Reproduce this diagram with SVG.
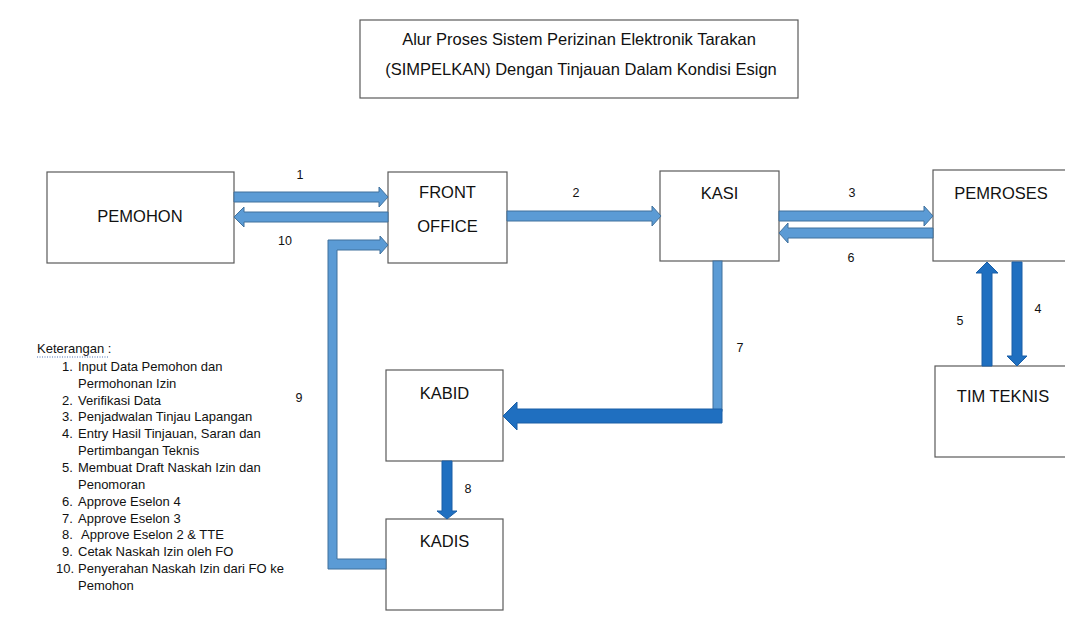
<svg xmlns="http://www.w3.org/2000/svg" width="1065" height="635" viewBox="0 0 1065 635">
<style>
.box{fill:#fff;stroke:#5a5a5a;stroke-width:1.2}
.nt{font-family:"Liberation Sans",Arial,sans-serif;font-size:16.5px;fill:#111;text-anchor:middle}
.tt{font-family:"Liberation Sans",Arial,sans-serif;font-size:16.5px;fill:#111;text-anchor:middle}
.lb{font-family:"Liberation Sans",Arial,sans-serif;font-size:12.5px;fill:#111;text-anchor:middle}
.lg{font-family:"Liberation Sans",Arial,sans-serif;font-size:13px;fill:#111}
.la{fill:#5B9BD5;stroke:#41719C;stroke-width:1}
.da{fill:#1F6FC0;stroke:#1A5EA6;stroke-width:1}
</style>
<rect width="1065" height="635" fill="#fff"/>
<g id="title">
<rect class="box" x="360" y="20" width="438" height="78"/>
<text class="tt" x="579" y="45">Alur Proses Sistem Perizinan Elektronik Tarakan</text>
<text class="tt" x="581" y="75">(SIMPELKAN) Dengan Tinjauan Dalam Kondisi Esign</text>
</g>
<g id="pemohon">
<rect class="box" x="47" y="172" width="187" height="91"/>
<text class="nt" x="140" y="222">PEMOHON</text>
</g>
<g id="front-office">
<rect class="box" x="388" y="172" width="119" height="91"/>
<text class="nt" x="447.5" y="198">FRONT</text>
<text class="nt" x="447.5" y="232">OFFICE</text>
</g>
<g id="kasi">
<rect class="box" x="660" y="171" width="119" height="90"/>
<text class="nt" x="719.5" y="199">KASI</text>
</g>
<g id="pemroses">
<rect class="box" x="933" y="170" width="140" height="91"/>
<text class="nt" x="1001" y="199">PEMROSES</text>
</g>
<g id="tim-teknis">
<rect class="box" x="935" y="366" width="140" height="91"/>
<text class="nt" x="1003" y="402">TIM TEKNIS</text>
</g>
<g id="kabid">
<rect class="box" x="386" y="370" width="117" height="91"/>
<text class="nt" x="444.5" y="399">KABID</text>
</g>
<g id="kadis">
<rect class="box" x="386" y="519" width="117" height="91"/>
<text class="nt" x="444.5" y="547">KADIS</text>
</g>
<g id="connectors">
<polygon class="la" points="234,192 379,192 379,187 388,197 379,207 379,202 234,202"/>
<polygon class="la" points="388,212 244,212 244,207 234,217 244,227 244,222 388,222"/>
<polygon class="la" points="507,211 652,211 652,206 661,216 652,226 652,221 507,221"/>
<polygon class="la" points="779,211 924,211 924,206 933,216 924,226 924,221 779,221"/>
<polygon class="la" points="933,228 788,228 788,223 779,233 788,243 788,238 933,238"/>
<polygon class="la" points="386,569 328,569 328,240 380,240 380,236 388,245 380,254 380,250 337,250 337,559 386,559"/>
<rect class="la" x="713" y="261" width="9" height="150"/>
<polygon class="da" points="722,409 517,409 517,402 503,416 517,430 517,423 722,423"/>
<polygon class="da" points="442,461 452,461 452,511 457,511 447,519 437,511 442,511"/>
<polygon class="da" points="982,366 992,366 992,273 998,273 987,262 976,273 982,273"/>
<polygon class="da" points="1012,262 1022,262 1022,356 1027,356 1017,366 1007,356 1012,356"/>
<text class="lb" x="300" y="179">1</text>
<text class="lb" x="285" y="245">10</text>
<text class="lb" x="576" y="197">2</text>
<text class="lb" x="852" y="197">3</text>
<text class="lb" x="851" y="262">6</text>
<text class="lb" x="740" y="352">7</text>
<text class="lb" x="299" y="402">9</text>
<text class="lb" x="468" y="493">8</text>
<text class="lb" x="960" y="325">5</text>
<text class="lb" x="1038" y="313">4</text>
</g>
<g id="legend">
<text class="lg" x="37" y="353">Keterangan :</text>
<line x1="37" y1="357" x2="109" y2="357" stroke="#4a6fb5" stroke-width="1.2" stroke-dasharray="1,1.5"/>
<text class="lg" x="62" y="371">1.</text><text class="lg" x="78" y="371">Input Data Pemohon dan</text>
<text class="lg" x="78" y="388">Permohonan Izin</text>
<text class="lg" x="62" y="405">2.</text><text class="lg" x="78" y="405">Verifikasi Data</text>
<text class="lg" x="62" y="421">3.</text><text class="lg" x="78" y="421">Penjadwalan Tinjau Lapangan</text>
<text class="lg" x="62" y="438">4.</text><text class="lg" x="78" y="438">Entry Hasil Tinjauan, Saran dan</text>
<text class="lg" x="78" y="455">Pertimbangan Teknis</text>
<text class="lg" x="62" y="472">5.</text><text class="lg" x="78" y="472">Membuat Draft Naskah Izin dan</text>
<text class="lg" x="78" y="489">Penomoran</text>
<text class="lg" x="62" y="506">6.</text><text class="lg" x="78" y="506">Approve Eselon 4</text>
<text class="lg" x="62" y="523">7.</text><text class="lg" x="78" y="523">Approve Eselon 3</text>
<text class="lg" x="62" y="539">8.</text><text class="lg" x="81" y="539">Approve Eselon 2 &amp; TTE</text>
<text class="lg" x="62" y="556">9.</text><text class="lg" x="78" y="556">Cetak Naskah Izin oleh FO</text>
<text class="lg" x="56" y="573">10.</text><text class="lg" x="78" y="573">Penyerahan Naskah Izin dari FO ke</text>
<text class="lg" x="78" y="590">Pemohon</text>
</g>
</svg>
